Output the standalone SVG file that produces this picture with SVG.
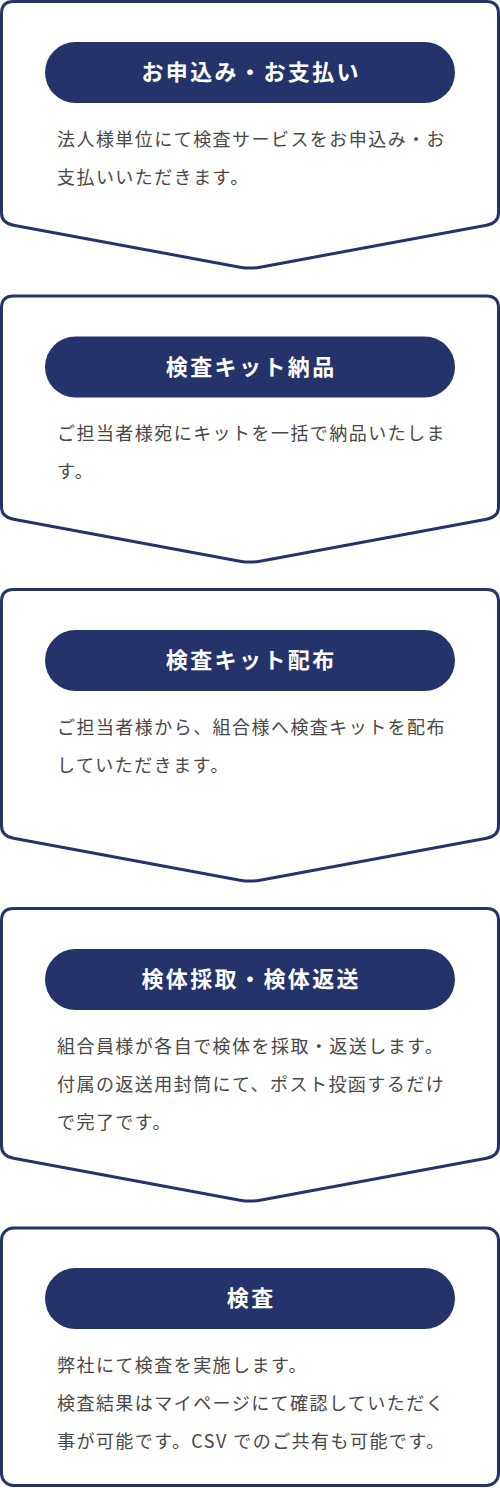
<svg xmlns="http://www.w3.org/2000/svg" width="500" height="1488" viewBox="0 0 500 1488">
<style>
.box{fill:#fff;stroke:#24346b;stroke-width:3;stroke-linejoin:round}
.pill{fill:#24346b}
.ttl{font-family:"Noto Sans CJK JP","Noto Sans",sans-serif;font-size:22px;font-weight:700;fill:#fff;letter-spacing:2.4px;text-anchor:middle}
.body{font-family:"Noto Sans CJK JP","Noto Sans",sans-serif;font-size:18px;font-weight:400;fill:#474747;letter-spacing:1.45px}
</style>
<rect width="500" height="1488" fill="#fff"/>
<g id="connectors"></g>
<g id="step1">
<path class="box" d="M13.5,1.5 H486.5 Q498.5,1.5 498.5,13.5 V213 Q498.5,223 486.5,225.2 L260,267.2 Q250,269 240,267.2 L13.5,225.2 Q1.5,223 1.5,213 V13.5 Q1.5,1.5 13.5,1.5 Z"/>
<rect class="pill" x="45" y="42" width="410" height="61" rx="30.5"/>
<text class="ttl" x="251.2" y="80">お申込み・お支払い</text>
<text class="body" x="57" y="146">法人様単位にて検査サービスをお申込み・お</text>
<text class="body" x="57" y="184">支払いいただきます。</text>
</g>
<g id="step2">
<path class="box" d="M13.5,296 H486.5 Q498.5,296 498.5,308 V507 Q498.5,517 486.5,519.2 L260,561.2 Q250,563 240,561.2 L13.5,519.2 Q1.5,517 1.5,507 V308 Q1.5,296 13.5,296 Z"/>
<rect class="pill" x="45" y="336.5" width="410" height="61" rx="30.5"/>
<text class="ttl" x="251.2" y="374.5">検査キット納品</text>
<text class="body" x="57" y="440">ご担当者様宛にキットを一括で納品いたしま</text>
<text class="body" x="57" y="478">す。</text>
</g>
<g id="step3">
<path class="box" d="M13.5,589.5 H486.5 Q498.5,589.5 498.5,601.5 V826 Q498.5,836 486.5,838.2 L260,880.2 Q250,882 240,880.2 L13.5,838.2 Q1.5,836 1.5,826 V601.5 Q1.5,589.5 13.5,589.5 Z"/>
<rect class="pill" x="45" y="630" width="410" height="61" rx="30.5"/>
<text class="ttl" x="251.2" y="668">検査キット配布</text>
<text class="body" x="57" y="734">ご担当者様から、組合様へ検査キットを配布</text>
<text class="body" x="57" y="772">していただきます。</text>
</g>
<g id="step4">
<path class="box" d="M13.5,908.5 H486.5 Q498.5,908.5 498.5,920.5 V1146 Q498.5,1156 486.5,1158.2 L260,1200.2 Q250,1202 240,1200.2 L13.5,1158.2 Q1.5,1156 1.5,1146 V920.5 Q1.5,908.5 13.5,908.5 Z"/>
<rect class="pill" x="45" y="949" width="410" height="61" rx="30.5"/>
<text class="ttl" x="251.2" y="987">検体採取・検体返送</text>
<text class="body" x="57" y="1053">組合員様が各自で検体を採取・返送します。</text>
<text class="body" x="57" y="1091">付属の返送用封筒にて、ポスト投函するだけ</text>
<text class="body" x="57" y="1129">で完了です。</text>
</g>
<g id="step5">
<rect class="box" x="1.5" y="1228" width="497" height="257.5" rx="12"/>
<rect class="pill" x="45" y="1268" width="410" height="61" rx="30.5"/>
<text class="ttl" x="251.2" y="1306">検査</text>
<text class="body" x="57" y="1372">弊社にて検査を実施します。</text>
<text class="body" x="57" y="1410">検査結果はマイページにて確認していただく</text>
<text class="body" x="57" y="1448">事が可能です。CSV でのご共有も可能です。</text>
</g>
</svg>
